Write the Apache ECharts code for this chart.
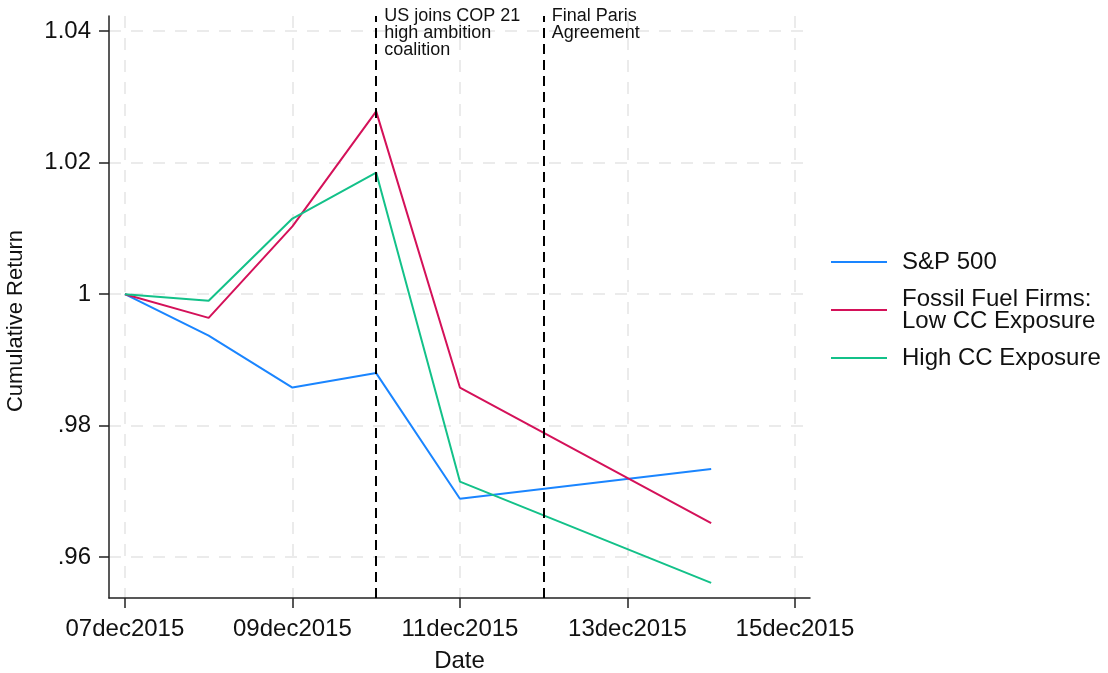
<!DOCTYPE html>
<html>
<head>
<meta charset="utf-8">
<script src="https://cdn.jsdelivr.net/npm/echarts@6/dist/echarts.min.js"></script>
<style>
  html, body { margin: 0; padding: 0; background: #fff; }
  #chart { width: 1108px; height: 673px; }
</style>
</head>
<body>
<div id="chart"></div>
<script>
// days of December 2015 (weekend 12-13 not traded)
var days = [7, 8, 9, 10, 11, 14];
var sp500 = [1.0, 0.9937, 0.9858, 0.9880, 0.9689, 0.9734];
var lowCC = [1.0, 0.9964, 1.0103, 1.0278, 0.9858, 0.9652];
var highCC = [1.0, 0.9990, 1.0115, 1.0185, 0.9715, 0.9561];

var seriesNames = ['S&P 500', 'Fossil Fuel Firms:\nLow CC Exposure', 'High CC Exposure'];
var seriesColors = ['#1a85ff', '#d41159', '#13c189'];

var xTicks = [7, 9, 11, 13, 15];
var yTicks = [0.96, 0.98, 1, 1.02, 1.04];

var eventDays = [10, 12];
var eventLabels = ['US joins COP 21\nhigh ambition\ncoalition', 'Final Paris\nAgreement'];

var font = '"Liberation Sans", Arial, sans-serif';

function pairs(vals) {
    return days.map(function (d, i) { return [d, vals[i]]; });
}

function dayLabel(v) {
    var d = Math.round(v);
    return (d < 10 ? '0' + d : '' + d) + 'dec2015';
}

function yLabel(v) {
    var s = String(Math.round(v * 100) / 100);
    return s.charAt(0) === '0' ? s.substring(1) : s;
}

var allData = [sp500, lowCC, highCC];
var series = allData.map(function (vals, i) {
    var s = {
        name: seriesNames[i],
        type: 'line',
        data: pairs(vals),
        symbol: 'none',
        lineStyle: {color: seriesColors[i], width: 2},
        itemStyle: {color: seriesColors[i]},
        emphasis: {disabled: true}
    };
    if (i === 0) {
        // dashed event lines
        s.markLine = {
            silent: true,
            symbol: 'none',
            lineStyle: {color: '#000', width: 2, type: [10, 6]},
            label: {
                show: true,
                position: 'end',
                align: 'left',
                verticalAlign: 'top',
                distance: 8,
                padding: [0, 0, 0, 8],
                fontFamily: font,
                fontSize: 18,
                lineHeight: 17,
                color: '#111',
                formatter: function (p) {
                    return eventLabels[eventDays.indexOf(p.value)];
                }
            },
            data: eventDays.map(function (d) { return {xAxis: d}; })
        };
    }
    return s;
});

var myChart = echarts.init(document.getElementById('chart'));
myChart.setOption({
    animation: false,
    backgroundColor: '#fff',
    grid: {left: 109, right: 298, top: 16, bottom: 75, outerBoundsMode: 'none'},
    legend: {
        orient: 'vertical',
        left: 831,
        top: 250,
        padding: 0,
        itemWidth: 56,
        itemHeight: 2,
        itemGap: 13,
        icon: 'rect',
        selectedMode: false,
        textStyle: {fontFamily: font, fontSize: 24, lineHeight: 22, color: '#111', padding: [0, 0, 0, 10]},
        data: seriesNames
    },
    xAxis: {
        type: 'value',
        min: 6.81,
        max: 15.18,
        name: 'Date',
        nameLocation: 'middle',
        nameGap: 51,
        nameTextStyle: {fontFamily: font, fontSize: 24, color: '#111'},
        axisLine: {show: true, lineStyle: {color: '#222', width: 1.5}},
        axisTick: {show: true, length: 10, customValues: xTicks, lineStyle: {color: '#222', width: 1.5}},
        axisLabel: {customValues: xTicks, margin: 19, fontFamily: font, fontSize: 24, color: '#111', formatter: dayLabel},
        splitLine: {show: true, lineStyle: {color: '#ebebeb', width: 2, type: [12, 10]}}
    },
    yAxis: {
        type: 'value',
        min: 0.9538,
        max: 1.0423,
        name: 'Cumulative Return',
        nameLocation: 'middle',
        nameGap: 82,
        nameTextStyle: {fontFamily: font, fontSize: 22, color: '#111', padding: [0, 28, 0, 0]},
        axisLine: {show: true, lineStyle: {color: '#222', width: 1.5}},
        axisTick: {show: true, length: 10, customValues: yTicks, lineStyle: {color: '#222', width: 1.5}},
        axisLabel: {customValues: yTicks, margin: 18, fontFamily: font, fontSize: 24, color: '#111', formatter: yLabel},
        splitLine: {show: true, lineStyle: {color: '#ebebeb', width: 2, type: [12, 10]}}
    },
    series: series
});
</script>
</body>
</html>
